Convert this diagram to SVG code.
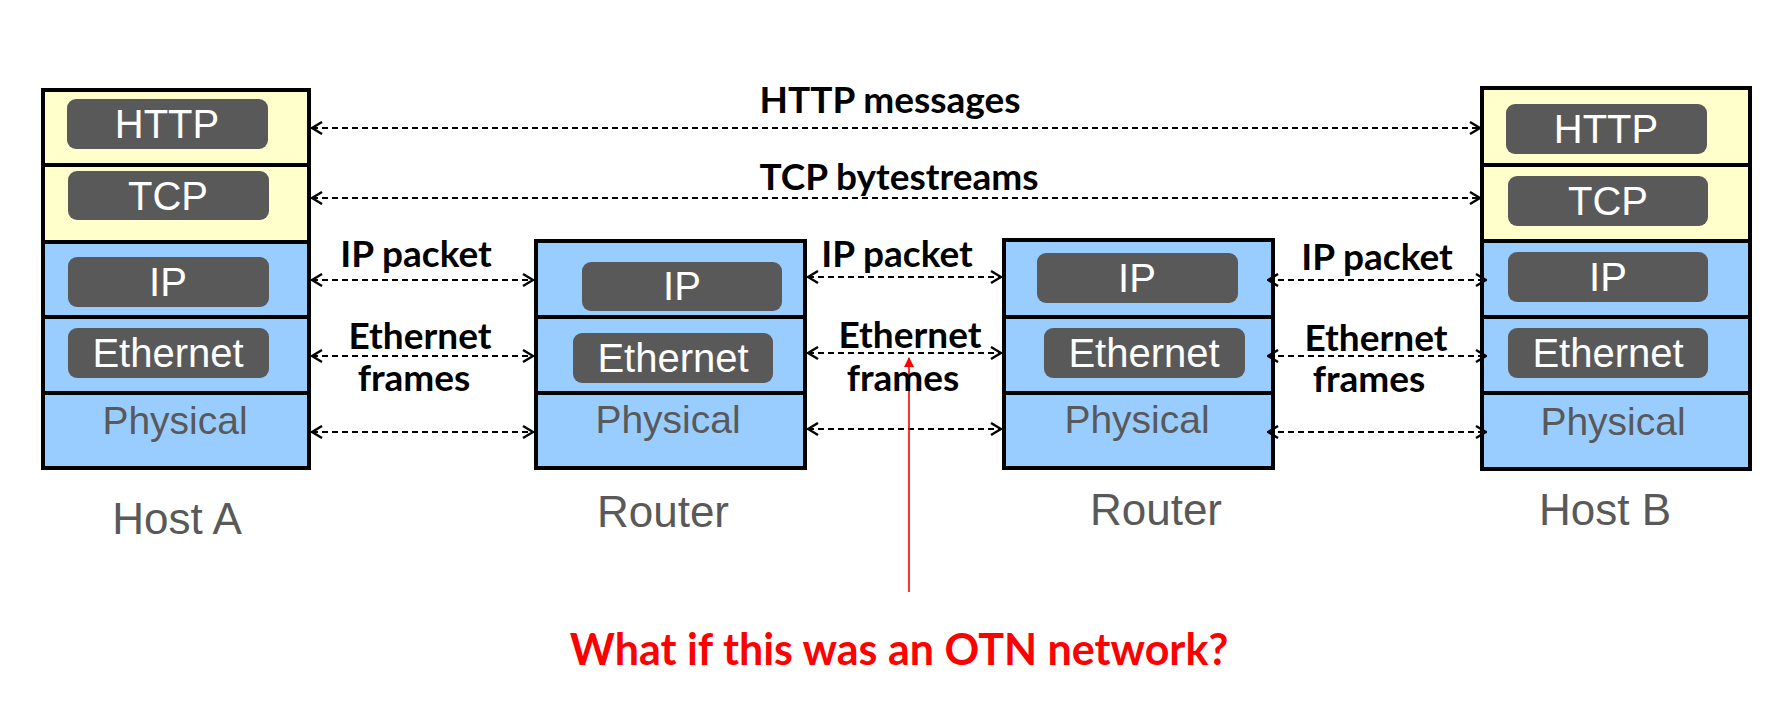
<svg xmlns="http://www.w3.org/2000/svg" width="1789" height="707" viewBox="0 0 1789 707">
<defs>
<style>
.app{fill:#FFFFCC;stroke:#000;stroke-width:4}
.net{fill:#99CCFF;stroke:#000;stroke-width:4}
.pill{fill:#595959}
.pt{font-family:"Liberation Sans",Arial,sans-serif;font-size:40px;fill:#fff;text-anchor:middle}
.gt{font-family:"Liberation Sans",Arial,sans-serif;font-size:39px;fill:#595959;text-anchor:middle}
.nl{font-family:"Liberation Sans",Arial,sans-serif;font-size:44px;fill:#595959;text-anchor:middle}
.lb{font-family:Lato,"Open Sans",sans-serif;font-weight:700;font-size:37px;fill:#000;text-anchor:middle}
.cn{fill:none;stroke:#000;stroke-width:2;stroke-dasharray:6 4;marker-start:url(#ah);marker-end:url(#ah)}
</style>
<marker id="ah" markerUnits="userSpaceOnUse" markerWidth="12" markerHeight="14" refX="11" refY="7" orient="auto-start-reverse" viewBox="0 0 12 14">
<path d="M1,1 L11,7 L1,13" fill="none" stroke="#000" stroke-width="2.4" stroke-dasharray="none"/>
</marker>
<marker id="rh" markerUnits="userSpaceOnUse" markerWidth="10" markerHeight="10" refX="9" refY="5" orient="auto" viewBox="0 0 10 10">
<path d="M0,0 L10,5 L0,10 Z" fill="#FF0000"/>
</marker>
</defs>
<rect width="1789" height="707" fill="#fff"/>

<g id="hostA">
<rect class="app" x="43" y="90" width="266" height="75"/>
<rect class="app" x="43" y="165" width="266" height="77"/>
<rect class="net" x="43" y="242" width="266" height="75"/>
<rect class="net" x="43" y="317" width="266" height="76"/>
<rect class="net" x="43" y="393" width="266" height="75"/>
<rect class="pill" x="67" y="99" width="201" height="50" rx="9"/>
<text class="pt" x="167" y="138">HTTP</text>
<rect class="pill" x="68" y="171" width="201" height="49" rx="9"/>
<text class="pt" x="168" y="210">TCP</text>
<rect class="pill" x="68" y="257" width="201" height="50" rx="9"/>
<text class="pt" x="168" y="296">IP</text>
<rect class="pill" x="68" y="328" width="201" height="50" rx="9"/>
<text class="pt" x="168" y="367">Ethernet</text>
<text class="gt" x="175" y="434">Physical</text>
<text class="nl" x="177" y="534">Host A</text>
</g>

<g id="router1">
<rect class="net" x="536" y="241" width="269" height="76"/>
<rect class="net" x="536" y="317" width="269" height="76"/>
<rect class="net" x="536" y="393" width="269" height="75"/>
<rect class="pill" x="582" y="262" width="200" height="49" rx="9"/>
<text class="pt" x="682" y="300">IP</text>
<rect class="pill" x="573" y="333" width="200" height="50" rx="9"/>
<text class="pt" x="673" y="372">Ethernet</text>
<text class="gt" x="668" y="433">Physical</text>
<text class="nl" x="663" y="527">Router</text>
</g>

<g id="router2">
<rect class="net" x="1004" y="240" width="269" height="77"/>
<rect class="net" x="1004" y="317" width="269" height="76"/>
<rect class="net" x="1004" y="393" width="269" height="75"/>
<rect class="pill" x="1037" y="253" width="201" height="50" rx="9"/>
<text class="pt" x="1137" y="292">IP</text>
<rect class="pill" x="1044" y="328" width="201" height="50" rx="9"/>
<text class="pt" x="1144" y="367">Ethernet</text>
<text class="gt" x="1137" y="433">Physical</text>
<text class="nl" x="1156" y="525">Router</text>
</g>

<g id="hostB">
<rect class="app" x="1482" y="88" width="268" height="77"/>
<rect class="app" x="1482" y="165" width="268" height="76"/>
<rect class="net" x="1482" y="241" width="268" height="76"/>
<rect class="net" x="1482" y="317" width="268" height="76"/>
<rect class="net" x="1482" y="393" width="268" height="76"/>
<rect class="pill" x="1506" y="104" width="201" height="50" rx="9"/>
<text class="pt" x="1606" y="143">HTTP</text>
<rect class="pill" x="1508" y="176" width="200" height="50" rx="9"/>
<text class="pt" x="1608" y="215">TCP</text>
<rect class="pill" x="1508" y="252" width="200" height="50" rx="9"/>
<text class="pt" x="1608" y="291">IP</text>
<rect class="pill" x="1508" y="328" width="200" height="50" rx="9"/>
<text class="pt" x="1608" y="367">Ethernet</text>
<text class="gt" x="1613" y="435">Physical</text>
<text class="nl" x="1605" y="525">Host B</text>
</g>

<g id="connectors">
<line class="cn" x1="312" y1="128" x2="1480" y2="128"/>
<line class="cn" x1="312" y1="198" x2="1480" y2="198"/>
<line class="cn" x1="312" y1="280" x2="533" y2="280"/>
<line class="cn" x1="312" y1="356" x2="533" y2="356"/>
<line class="cn" x1="312" y1="432" x2="533" y2="432"/>
<line class="cn" x1="808" y1="277" x2="1001" y2="277"/>
<line class="cn" x1="808" y1="353" x2="1001" y2="353"/>
<line class="cn" x1="808" y1="429" x2="1001" y2="429"/>
<line class="cn" x1="1268" y1="280" x2="1486" y2="280"/>
<line class="cn" x1="1268" y1="356" x2="1486" y2="356"/>
<line class="cn" x1="1268" y1="432" x2="1486" y2="432"/>
<line x1="909" y1="592" x2="909" y2="358" stroke="#FF0000" stroke-width="1.6" marker-end="url(#rh)"/>
</g>

<g id="labels">
<text class="lb" x="890" y="113">HTTP messages</text>
<text class="lb" x="899" y="190">TCP bytestreams</text>
<text class="lb" x="416" y="267">IP packet</text>
<text class="lb" x="420" y="349">Ethernet</text>
<text class="lb" x="414" y="391">frames</text>
<text class="lb" x="897" y="267">IP packet</text>
<text class="lb" x="910" y="348">Ethernet</text>
<text class="lb" x="903" y="391">frames</text>
<text class="lb" x="1377" y="270">IP packet</text>
<text class="lb" x="1376" y="351">Ethernet</text>
<text class="lb" x="1369" y="392">frames</text>
<text x="899" y="665" font-family="Lato,'Open Sans',sans-serif" font-weight="700" font-size="43" fill="#FF0000" text-anchor="middle">What if this was an OTN network?</text>
</g>
</svg>
